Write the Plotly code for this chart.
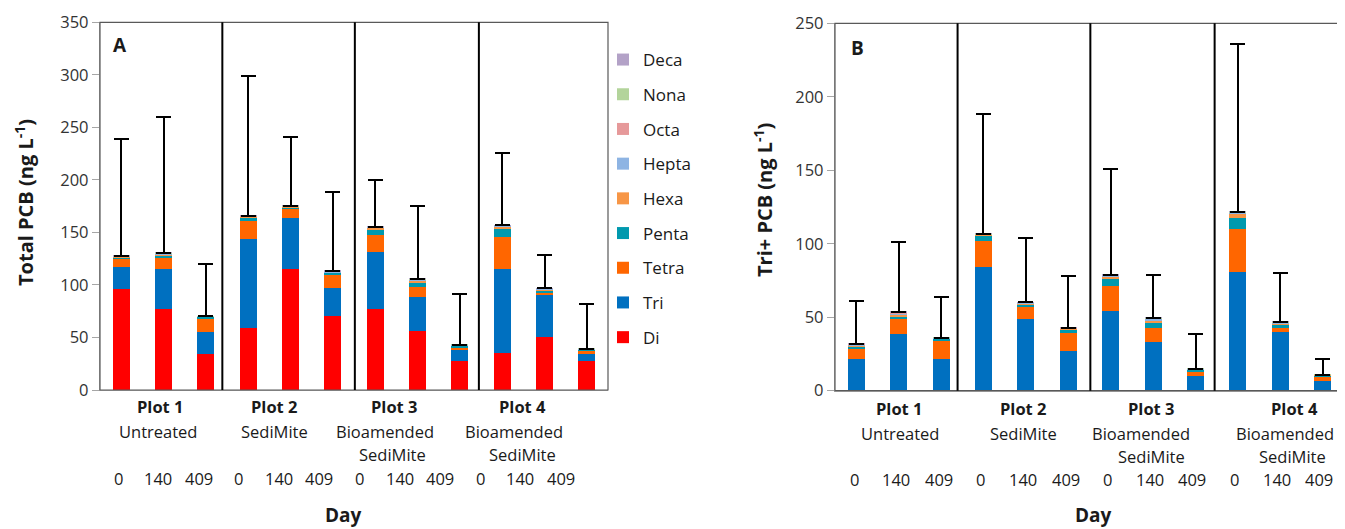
import plotly.graph_objects as go

# ---------------- data ----------------
homologs = ["Di", "Tri", "Tetra", "Penta", "Hexa", "Hepta", "Octa", "Nona", "Deca"]
colors = ["#FF0000", "#0070C0", "#FF6600", "#0099AE", "#F79646",
          "#8EB4E3", "#E6999A", "#B3D49B", "#B3A2C7"]

day_labels = ["0", "140", "409"] * 4
plot_names = ["Plot 1", "Plot 2", "Plot 3", "Plot 4"]
treat_line1 = ["Untreated", "SediMite", "Bioamended", "Bioamended"]
treat_line2 = ["", "", "SediMite", "SediMite"]

di    = [96, 77, 34, 59, 115, 70, 77, 56, 28, 35, 50, 28]
tri   = [21.5, 38.5, 21.5, 84.5, 48.5, 27, 54, 33, 10, 80.5, 40, 6.5]
tetra = [7.2, 10.3, 12.2, 17.3, 8.6, 12.3, 17, 9.5, 2.5, 29.8, 2.9, 2.7]
penta = [1.2, 1.5, 1.6, 3.4, 1.2, 1.8, 4.8, 3.8, 1.5, 7.5, 1.8, 0.8]
hexa  = [0.9, 1.2, 0.3, 0.7, 0.8, 0.8, 1.5, 1.5, 0.5, 2.3, 0.9, 0.5]
hepta = [0.5, 0.8, 0.2, 0.3, 0.5, 0.4, 0.6, 0.8, 0.3, 0.8, 0.5, 0.3]
octa  = [0.3, 0.6, 0.1, 0.2, 0.2, 0.3, 0.3, 0.5, 0.1, 0.4, 0.3, 0.1]
nona  = [0.3, 0.4, 0.1, 0.2, 0.2, 0.3, 0.3, 0.3, 0.1, 0.3, 0.2, 0.1]
deca  = [0.1, 0.2, 0.0, 0.1, 0.1, 0.1, 0.1, 0.1, 0.0, 0.1, 0.1, 0.0]

sd_total = [111, 129, 50, 133, 66, 75, 44, 70, 48, 69, 32, 43]
sd_triplus = [29, 47.5, 28, 81.6, 43.6, 35, 72.4, 29.5, 23.6, 114.4, 33.2, 10.4]

series = [di, tri, tetra, penta, hexa, hepta, octa, nona, deca]

# ---------------- layout helpers ----------------
W, H = 1345, 529
OX, OY = 8, 8          # page offset (body margin) compensation
FONT = "Open Sans"
TXT = "#1a1a1a"
xs = list(range(12))

def px(xp):
    return (xp - OX) / W

def py(yp):
    return (H - (yp - OY)) / H

# label positions (layout, in axis units)
dayx_A = [-0.07 + 0.95 * i for i in range(12)]
dayx_B = [-0.05 + 0.997 * i for i in range(12)]
plotx_A = [0.92, 3.63, 6.45, 9.49]
t1x_A = [0.87, 3.63, 6.23, 9.28]
t2x_A = [None, None, 6.42, 9.49]
plotx_B = [1.03, 3.95, 6.96, 10.34]
t1x_B = [1.03, 3.95, 6.72, 10.10]
t2x_B = [None, None, 6.96, 10.29]
sep_x = [2.39, 5.52, 8.45]

fig = go.Figure()

def add_panel(values, sd, xa, ya, show_legend):
    for k, (name, vals, col) in enumerate(zip(homologs, values, colors)):
        if vals is None:
            continue
        kw = {}
        if k == len(homologs) - 1:
            kw["error_y"] = dict(type="data", symmetric=False, array=sd,
                                 arrayminus=[0] * len(sd), color="black",
                                 thickness=2, width=7.5)
        fig.add_trace(go.Bar(
            x=xs, y=vals, name=name, marker_color=col,
            marker_line_width=0, width=0.4, xaxis=xa, yaxis=ya,
            showlegend=show_legend, legendgroup=name, legendrank=100 - k,
            **kw))

add_panel(series, sd_total, "x", "y", True)
add_panel([None] + series[1:], sd_triplus, "x2", "y2", False)

axis_common = dict(showgrid=False, zeroline=False, showline=True,
                   linecolor="#A6A6A6", linewidth=1.3, automargin=False)
tickf = dict(size=16.5, color="#333333", family=FONT)
fig.update_layout(
    width=W, height=H, barmode="stack",
    margin=dict(l=0, r=0, t=0, b=0, autoexpand=False),
    paper_bgcolor="white", plot_bgcolor="white",
    font=dict(family=FONT, size=16.5, color=TXT),
    xaxis=dict(domain=[px(100), px(608)], range=[-0.5, 11.5],
               showticklabels=False, ticks="", anchor="y", **axis_common),
    yaxis=dict(domain=[py(390), py(22.3)], range=[0, 350],
               dtick=50, ticks="outside", ticklen=7, tickcolor="#A6A6A6",
               tickfont=tickf, anchor="x", **axis_common),
    xaxis2=dict(domain=[px(835), px(1344)], range=[-0.5, 11.5],
                showticklabels=False, ticks="", anchor="y2", **axis_common),
    yaxis2=dict(domain=[py(390.7), py(23.3)], range=[0, 250],
                dtick=50, ticks="outside", ticklen=7, tickcolor="#A6A6A6",
                tickfont=tickf, anchor="x2", **axis_common),
    legend=dict(x=px(603), y=py(42), xanchor="left", yanchor="top",
                traceorder="grouped", tracegroupgap=9.6,
                font=dict(size=17, color=TXT, family=FONT),
                bgcolor="rgba(0,0,0,0)"),
)

shapes = []
for xa, ya in (("x", "y"), ("x2", "y2")):
    shapes.append(dict(type="rect", xref=f"{xa} domain", yref=f"{ya} domain",
                       x0=0, x1=1, y0=0, y1=1,
                       line=dict(color="#595959", width=1.2), layer="above"))
    for sx in sep_x:
        shapes.append(dict(type="line", xref=xa, yref=f"{ya} domain",
                           x0=sx, x1=sx, y0=0, y1=1,
                           line=dict(color="black", width=2), layer="above"))
fig.update_layout(shapes=shapes)

ann = []
def A(**kw):
    base = dict(showarrow=False, xanchor="center", yanchor="middle", borderpad=0)
    base.update(kw)
    ann.append(base)

def add_labels(xa, dayx, plotx, t1x, t2x, yplot, yt1, yt2, yday, xDay, yDay):
    f = dict(size=16.5, color=TXT, family=FONT)
    for i, d in enumerate(day_labels):
        A(x=dayx[i], y=py(yday), xref=xa, yref="paper", text=d, font=f)
    for g in range(4):
        A(x=plotx[g], y=py(yplot), xref=xa, yref="paper",
          text=f"<b>{plot_names[g]}</b>", font=f)
        A(x=t1x[g], y=py(yt1), xref=xa, yref="paper", text=treat_line1[g], font=f)
        if treat_line2[g]:
            A(x=t2x[g], y=py(yt2), xref=xa, yref="paper", text=treat_line2[g], font=f)
    A(x=px(xDay), y=py(yDay), xref="paper", yref="paper", text="<b>Day</b>",
      font=dict(size=19, color=TXT, family=FONT))

add_labels("x", dayx_A, plotx_A, t1x_A, t2x_A, 406, 431, 454.5, 478, 343.5, 515)
add_labels("x2", dayx_B, plotx_B, t1x_B, t2x_B, 408, 433, 456, 479, 1093, 515)

A(x=px(120), y=py(45), xref="paper", yref="paper", text="<b>A</b>",
  font=dict(size=19, color=TXT, family=FONT))
A(x=px(857), y=py(48), xref="paper", yref="paper", text="<b>B</b>",
  font=dict(size=19, color=TXT, family=FONT))
A(x=px(25), y=py(203), xref="paper", yref="paper",
  text="<b>Total PCB (ng L<sup>-1</sup>)</b>", textangle=-90,
  font=dict(size=20, color=TXT, family=FONT))
A(x=px(763), y=py(200), xref="paper", yref="paper",
  text="<b>Tri+ PCB (ng L<sup>-1</sup>)</b>", textangle=-90,
  font=dict(size=20, color=TXT, family=FONT))
fig.update_layout(annotations=ann)

fig.write_html("out.html")
